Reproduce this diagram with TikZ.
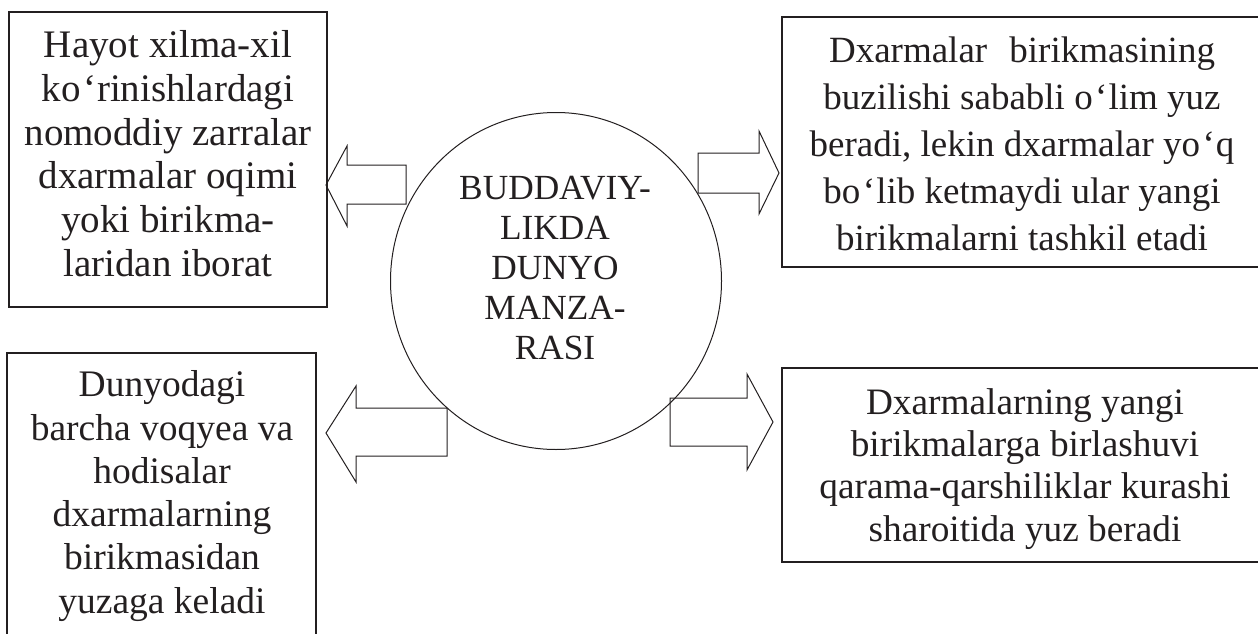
\documentclass[tikz,border=0pt]{standalone}
\usepackage{fontspec}
\setmainfont{Liberation Serif}
\usetikzlibrary{shapes.geometric}
\definecolor{ink}{HTML}{231F20}
\newcommand\okina{\kern2.5pt‘\kern1pt}
\begin{document}
\begin{tikzpicture}[x=1pt,y=-1pt,
  box/.style={draw=ink, line width=1.3pt, inner sep=0pt},
  txt/.style={align=center, inner sep=0pt, text=ink, font=\fontsize{37}{43.7}\selectfont},
  blk/.style={draw=ink, line width=1pt, line join=miter},
  ring/.style={draw=ink, line width=1pt, ellipse, inner sep=0pt}
]
\useasboundingbox (0,0) rectangle (1258,634);

% boxes
\node[box, minimum width=318pt, minimum height=295pt] (tl) at (168,159.5) {};
\node[box, minimum width=480pt, minimum height=250pt] (tr) at (1022,142) {};
\node[box, minimum width=486pt, minimum height=194pt] (br) at (1025,465) {};
\node[box, minimum width=309pt, minimum height=307pt] (bl) at (161.5,506.5) {};

% centre
\node[ring, minimum width=331pt, minimum height=337pt] (c) at (556,281) {};

% texts
\node[txt, font=\fontsize{39}{43.7}\selectfont] (tlt) at (168,153.7) {Hayot xilma-xil\\ko\okina rinishlardagi\\nomoddiy zarralar\\dxarmalar oqimi\\yoki birikma-\\laridan iborat};
\node[txt, font=\fontsize{37}{47}\selectfont] (trt) at (1022,144) {Dxarmalar\hspace{0.6em}birikmasining\\buzilishi sababli o\okina lim yuz\\beradi, lekin dxarmalar yo\okina q\\bo\okina lib ketmaydi ular yangi\\birikmalarni tashkil etadi};
\node[txt, font=\fontsize{37.3}{42.3}\selectfont] (brt) at (1025,468.7) {Dxarmalarning yangi\\birikmalarga birlashuvi\\qarama-qarshiliklar kurashi\\sharoitida yuz beradi};
\node[txt, font=\fontsize{37.5}{43.3}\selectfont] (blt) at (162,496) {Dunyodagi\\barcha voqyea va\\hodisalar\\dxarmalarning\\birikmasidan\\yuzaga keladi};
\node[txt, font=\fontsize{35.3}{40}\selectfont] (ct) at (555,268.5) {BUDDAVIY-\\LIKDA\\DUNYO\\MANZA-\\RASI};

% block arrows (tip coordinates)
\coordinate (aTL) at (326,185);
\coordinate (aTR) at (779,173);
\coordinate (aBR) at (773,422);
\coordinate (aBL) at (326,433);

\draw[blk] (aTL) -- ++(21,-39) -- ++(0,19) -- ++(59,0) -- ++(0,39) -- ++(-59,0) -- ++(0,22) -- cycle;
\draw[blk] (aTR) -- ++(-20,-42) -- ++(0,22) -- ++(-61,0) -- ++(0,40) -- ++(61,0) -- ++(0,21) -- cycle;
\draw[blk] (aBR) -- ++(-26,-48) -- ++(0,24) -- ++(-77,0) -- ++(0,48) -- ++(77,0) -- ++(0,24) -- cycle;
\draw[blk] (aBL) -- ++(30,-47) -- ++(0,22) -- ++(91,0) -- ++(0,48) -- ++(-91,0) -- ++(0,26) -- cycle;
\end{tikzpicture}
\end{document}
